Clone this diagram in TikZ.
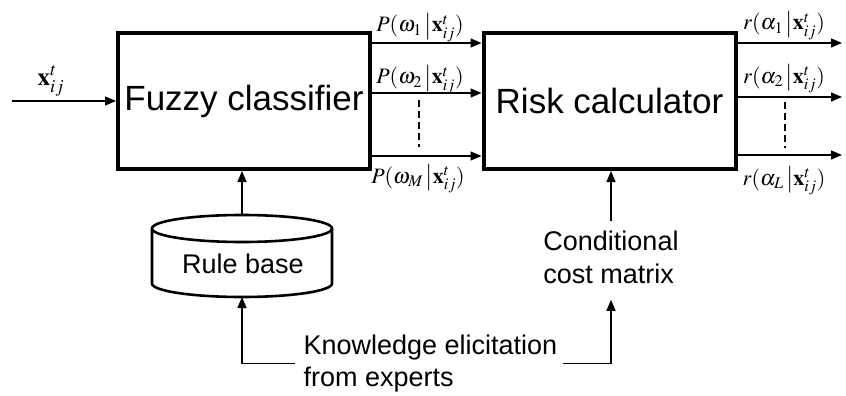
\documentclass[tikz,border=0pt]{standalone}
\usepackage{mathptmx}
\usepackage[no-math]{fontspec}
\setmainfont{Liberation Sans}
\usetikzlibrary{arrows.meta,calc}
\begin{document}
\begin{tikzpicture}[x=1pt,y=-1pt,
  box/.style={draw, line width=4pt, minimum width=252pt, minimum height=136pt, inner sep=0pt, font=\fontsize{35}{42}\selectfont},
  arr/.style={line width=1.3pt, -{Triangle[length=11pt,width=9pt]}},
  lbl/.style={inner sep=0pt, font=\fontsize{22}{26}\selectfont},
  txt/.style={inner sep=0pt, align=left, font=\fontsize{27}{32.5}\selectfont},
  dots/.style={line width=1.2pt, dash pattern=on 7pt off 4pt},
  cyl/.style={line width=2.6pt}]
\useasboundingbox (0,0) rectangle (846,396);
% main boxes
\node[box] (fc) at (244,101) {Fuzzy classifier};
\node[box] (rc) at (609.5,101) {Risk calculator};
% input
\coordinate (in) at (12,101);
\draw[arr] (in) -- (fc.west);
\node[lbl, anchor=base, font=\fontsize{25}{30}\selectfont] (xin) at (51,85) {$\mathbf{x}_{ij}^{t}$};
% fuzzy outputs
\draw[arr] ([yshift=-12pt]fc.north east) -- ([yshift=-12pt]rc.north west);
\draw[arr] ([yshift=-62pt]fc.north east) -- ([yshift=-62pt]rc.north west);
\draw[arr] ([yshift=15pt]fc.south east) -- ([yshift=15pt]rc.south west);
\node[lbl, anchor=base] (p1) at (420,32) {$P(\omega_1\,\bigl|\mathbf{x}_{ij}^{t})$};
\node[lbl, anchor=base] (p2) at (420,84) {$P(\omega_2\,\bigl|\mathbf{x}_{ij}^{t})$};
\node[lbl, anchor=base] (pM) at (418,183) {$P(\omega_M\,\bigl|\mathbf{x}_{ij}^{t})$};
\coordinate (d1a) at (419,100);
\coordinate (d1b) at (419,147);
\draw[dots] (d1a) -- (d1b);
% risk outputs
\coordinate (r1) at (842,43);
\coordinate (r2) at (842,97);
\coordinate (rL) at (842,155);
\draw[arr] (rc.east |- r1) -- (r1);
\draw[arr] (rc.east |- r2) -- (r2);
\draw[arr] (rc.east |- rL) -- (rL);
\node[lbl, anchor=base] (q1) at (784,30) {$r(\alpha_1\,\bigl|\mathbf{x}_{ij}^{t})$};
\node[lbl, anchor=base] (q2) at (784,83) {$r(\alpha_2\,\bigl|\mathbf{x}_{ij}^{t})$};
\node[lbl, anchor=base] (qL) at (784,185) {$r(\alpha_L\,\bigl|\mathbf{x}_{ij}^{t})$};
\coordinate (d2a) at (785,102);
\coordinate (d2b) at (785,148);
\draw[dots] (d2a) -- (d2b);
% rule base cylinder
\node[minimum width=180pt, minimum height=82pt, inner sep=0pt, outer sep=0pt] (rb) at (242,256) {};
\draw[cyl] ($(rb.north)+(0,13.5)$) ellipse [x radius=90, y radius=13.5];
\draw[cyl] ($(rb.north west)+(0,13.5)$) -- ($(rb.south west)+(0,-13.5)$)
  arc[start angle=180, end angle=0, x radius=90, y radius=13.5] -- ($(rb.north east)+(0,13.5)$);
\node[txt, anchor=base] (rbt) at (243,273) {Rule base};
\draw[arr] (rb.north) -- (rb.north |- fc.south);
% conditional cost matrix
\node[txt] (cm) at (611,257.4) {Conditional\\cost matrix};
\draw[arr] ([yshift=10pt]cm.north) -- (cm.north |- rc.south);
% knowledge elicitation
\node[txt] (kn) at (430.5,363.5) {Knowledge elicitation\\from experts};
\draw[arr] ([xshift=-8pt]kn.west) -| (rb.south);
\draw[arr] ([xshift=5pt]kn.east) -| ([yshift=-16pt]cm.south);
\end{tikzpicture}
\end{document}
